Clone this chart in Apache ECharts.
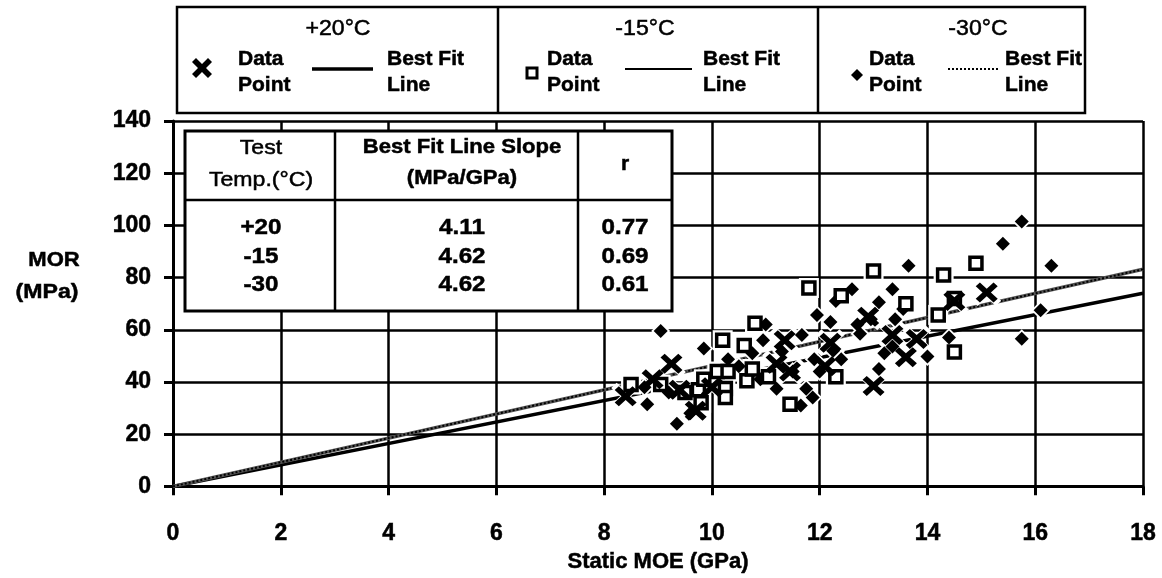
<!DOCTYPE html>
<html>
<head>
<meta charset="utf-8">
<script src="https://cdn.jsdelivr.net/npm/echarts@6/dist/echarts.min.js"></script>
<style>
  html, body { margin: 0; padding: 0; background: #fff; }
  #chart { width: 1162px; height: 578px; }
</style>
</head>
<body>
<div id="chart"></div>
<script>
// Test temperatures, fitted slopes (MPa/GPa) and correlation coefficients
const tempTitles = ['+20\u00B0C', '-15\u00B0C', '-30\u00B0C'];
const tempRows = ['+20', '-15', '-30'];
const slopes = [4.11, 4.62, 4.62];
const rValues = ['0.77', '0.69', '0.61'];

// Extent of the best-fit lines along Static MOE (GPa)
const fitMoe = [0, 18];

// Measured points: [Static MOE (GPa), MOR (MPa)]
const points20 = [
  [8.4, 34.5], [8.9, 41], [9.25, 47], [9.4, 37], [9.7, 29], [10.0, 38],
  [11.2, 47], [11.35, 56], [11.45, 44], [12.1, 46], [12.2, 55], [12.9, 65],
  [13.0, 38.5], [13.35, 58], [13.6, 49.5], [13.8, 56.5], [14.5, 71], [15.1, 74.3]
];
const points15 = [
  [8.5, 39], [9.05, 39], [9.5, 36], [9.75, 37], [9.8, 32], [9.85, 41],
  [10.1, 44], [10.3, 44], [10.25, 37.5], [10.25, 34], [10.65, 40.5], [10.75, 45],
  [10.2, 56], [10.6, 54], [10.8, 62.5], [11.05, 42], [11.45, 31.5], [11.8, 76],
  [12.3, 42], [12.4, 73], [13.0, 82.5], [13.6, 70], [14.2, 65.7], [14.3, 81],
  [14.5, 72], [14.5, 51.5], [14.9, 85.5]
];
const points30 = [
  [8.75, 38], [8.8, 31.5], [9.05, 59.5], [9.2, 36], [9.35, 24], [9.6, 28],
  [9.85, 52.8], [10.3, 48.7], [10.5, 46], [10.75, 51], [10.95, 56], [11.0, 62],
  [10.9, 41], [11.3, 51.7], [11.5, 44], [11.2, 37.4], [11.67, 58], [11.65, 31],
  [11.75, 37.4], [11.87, 34], [11.9, 48.7], [11.95, 65.7], [12.0, 44], [12.2, 63],
  [12.25, 52], [12.3, 71], [12.4, 48.7], [12.6, 75.5], [12.7, 62], [12.75, 58.5],
  [12.95, 64], [13.1, 70.5], [13.1, 45], [13.2, 51], [13.35, 75.5], [13.35, 53.6],
  [13.4, 64], [13.55, 68], [13.65, 84.5], [14.0, 49.8], [14.4, 57], [15.4, 93],
  [15.75, 101.5], [15.75, 56.6], [16.1, 67.5], [16.3, 84.5]
];

const FONT = '"Liberation Sans", Arial, Helvetica, sans-serif';
const crossPath = 'path://M0,19L19,0L50,31L81,0L100,19L69,50L100,81L81,100L50,69L19,100L0,81L31,50Z';

const chart = echarts.init(document.getElementById('chart'), null, { renderer: 'canvas' });

function fitLine(slope) {
  return fitMoe.map(x => [x, +(x * slope).toFixed(3)]);
}

function txt(text, x, y, size, align, sx, weight) {
  return {
    type: 'text', z: 101, silent: true,
    x: x, y: y, scaleX: sx || 1,
    style: {
      text: text, x: 0, y: 0,
      font: (weight || 'bold') + ' ' + size + 'px ' + FONT,
      fill: '#000', stroke: '#000', lineWidth: 0.5,
      align: align || 'center', verticalAlign: 'middle',
      textAlign: align || 'center', textVerticalAlign: 'middle'
    }
  };
}
function seg(x1, y1, x2, y2, w, dash) {
  return {
    type: 'line', z: 101, silent: true,
    shape: { x1: x1, y1: y1, x2: x2, y2: y2 },
    style: { stroke: '#000', lineWidth: w, lineDash: dash || null }
  };
}

// Key box across the top: one cell per test temperature
const keyCells = [
  { tx: 338, dx: 238, l1: 312, l2: 373, bx: 387, dash: null, lw: 3.5 },
  { tx: 645, dx: 547, l1: 625, l2: 692, bx: 703, dash: null, lw: 2 },
  { tx: 978, dx: 869, l1: 948, l2: 998, bx: 1005, dash: [2, 2], lw: 2 }
];
const graphics = [];
graphics.push({
  type: 'rect', z: 100, silent: true,
  shape: { x: 177, y: 7, width: 908, height: 106 },
  style: { fill: '#fff', stroke: '#000', lineWidth: 2.5 }
});
graphics.push(seg(498, 7, 498, 113, 2.5));
graphics.push(seg(818, 7, 818, 113, 2.5));
keyCells.forEach((c, i) => {
  graphics.push(txt(tempTitles[i], c.tx, 29, 22, 'center', 1.05, 'normal'));
  graphics.push(txt('Data', c.dx, 59, 21, 'left'));
  graphics.push(txt('Point', c.dx, 85, 21, 'left'));
  graphics.push(txt('Best Fit', c.bx, 59, 21, 'left'));
  graphics.push(txt('Line', c.bx, 85, 21, 'left'));
  graphics.push(seg(c.l1, 69, c.l2, 69, c.lw, c.dash));
});
// key symbols
graphics.push({
  type: 'polygon', z: 101, silent: true,
  shape: { points: [[192,62],[196,58],[202,64],[208,58],[212,62],[206,68],[212,74],[208,78],[202,72],[196,78],[192,74],[198,68]] },
  style: { fill: '#000' }
});
graphics.push({
  type: 'rect', z: 101, silent: true,
  shape: { x: 527, y: 68, width: 10, height: 10 },
  style: { fill: '#fff', stroke: '#000', lineWidth: 3 }
});
graphics.push({
  type: 'polygon', z: 101, silent: true,
  shape: { points: [[857,69],[863,75],[857,81],[851,75]] },
  style: { fill: '#000' }
});

// Inset table of fit results
graphics.push({
  type: 'rect', z: 100, silent: true,
  shape: { x: 185, y: 131, width: 487, height: 180 },
  style: { fill: '#fff', stroke: '#000', lineWidth: 3 }
});
graphics.push(seg(335, 131, 335, 311, 2.5));
graphics.push(seg(578, 131, 578, 311, 2.5));
graphics.push(seg(185, 200, 672, 200, 2.5));
graphics.push(txt('Test', 261, 148, 21, 'center', 1.1, 'normal'));
graphics.push(txt('Temp.(\u00B0C)', 261, 180, 21, 'center', 1.1, 'normal'));
graphics.push(txt('Best Fit Line Slope', 462, 147, 21, 'center', 1.05));
graphics.push(txt('(MPa/GPa)', 462, 178, 21, 'center', 1.05));
graphics.push(txt('r', 625, 164, 21));
const rowY = [228, 257, 285];
tempRows.forEach((t, i) => {
  graphics.push(txt(t, 261, rowY[i], 22, 'center', 1.1));
  graphics.push(txt(slopes[i].toFixed(2), 462, rowY[i], 22, 'center', 1.1));
  graphics.push(txt(rValues[i], 625, rowY[i], 22, 'center', 1.1));
});

// Y axis title, written horizontally beside the axis
graphics.push(txt('MOR', 54, 260, 21, 'center', 1.05));
graphics.push(txt('(MPa)', 47, 292, 21, 'center', 1.1));

const labelStyle = {
  color: '#000', fontFamily: FONT, fontWeight: 'bold', fontSize: 23,
  textBorderColor: '#000', textBorderWidth: 0.5
};
const axisCommon = {
  type: 'value',
  axisLine: { show: true, onZero: false, lineStyle: { color: '#000', width: 3 } },
  axisTick: { show: true, inside: false, length: 9, lineStyle: { color: '#000', width: 3 } },
  splitLine: { show: true, showMinLine: true, showMaxLine: true, lineStyle: { color: '#000', width: 2.5 } }
};

function halo(data, symbol, size) {
  return {
    type: 'scatter', data: data, symbol: symbol, symbolSize: size, z: 3, silent: true,
    itemStyle: { color: '#fff', opacity: 1 }, emphasis: { disabled: true }
  };
}

const option = {
  animation: false,
  backgroundColor: '#fff',
  grid: { left: 173, right: 19, top: 121, bottom: 86, containLabel: false },
  xAxis: Object.assign({}, axisCommon, {
    min: 0, max: 18, interval: 2,
    axisLabel: Object.assign({}, labelStyle, { margin: 36 }),
    name: 'Static MOE (GPa)', nameLocation: 'middle', nameGap: 59,
    nameTextStyle: { color: '#000', fontFamily: FONT, fontWeight: 'bold', fontSize: 22,
      textBorderColor: '#000', textBorderWidth: 0.5 }
  }),
  yAxis: Object.assign({}, axisCommon, {
    min: 0, max: 140, interval: 20,
    axisLabel: Object.assign({}, labelStyle, { margin: 22 })
  }),
  series: [
    { name: '+20\u00B0C Best Fit Line', type: 'line', data: fitLine(slopes[0]), symbol: 'none', z: 2,
      lineStyle: { color: '#000', width: 3.5 } },
    { name: '-15\u00B0C Best Fit Line', type: 'line', data: fitLine(slopes[1]), symbol: 'none', z: 2,
      lineStyle: { color: '#555', width: 3.5 } },
    { name: '-30\u00B0C Best Fit Line', type: 'line', data: fitLine(slopes[2]), symbol: 'none', z: 2,
      lineStyle: { color: '#000', width: 2, type: [2, 2] } },
    halo(points30, 'diamond', 19),
    halo(points15, 'rect', 20),
    halo(points20, crossPath, [29, 27]),
    { name: '-30\u00B0C Data Point', type: 'scatter', data: points30, symbol: 'diamond', symbolSize: 14, z: 4,
      itemStyle: { color: '#000', opacity: 1 } },
    { name: '-15\u00B0C Data Point', type: 'scatter', data: points15, symbol: 'rect', symbolSize: 12, z: 4,
      itemStyle: { color: '#fff', borderColor: '#000', borderWidth: 3.5, opacity: 1 } },
    { name: '+20\u00B0C Data Point', type: 'scatter', data: points20, symbol: crossPath, symbolSize: [22, 20], z: 4,
      itemStyle: { color: '#000', opacity: 1 } }
  ],
  graphic: { elements: graphics }
};

chart.setOption(option);
</script>
</body>
</html>
